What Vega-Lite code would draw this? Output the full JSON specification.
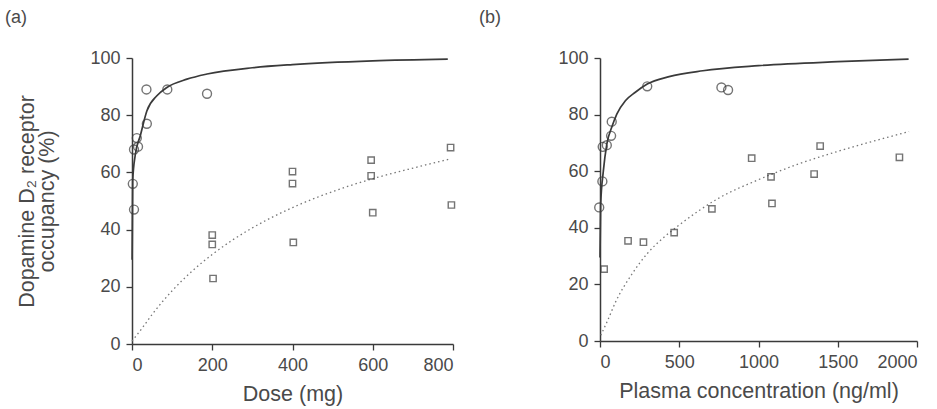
{
  "$schema": "https://vega.github.io/schema/vega-lite/v6.json",
  "background": "white",
  "padding": {"left": 4, "top": 9, "right": 5, "bottom": 3},
  "config": {
    "font": "Liberation Sans, Arial, sans-serif",
    "view": {"stroke": null},
    "axis": {
      "grid": false,
      "domainColor": "#3a3a3a",
      "domainWidth": 1.5,
      "tickColor": "#3a3a3a",
      "tickWidth": 1.3,
      "tickSize": 6,
      "labelFontSize": 18,
      "labelColor": "#4a4a4a",
      "titleFontSize": 21.5,
      "titleFontWeight": "normal",
      "titleColor": "#4a4a4a",
      "labelPadding": 6,
      "format": "d"
    },
    "title": {"fontSize": 18, "fontWeight": "normal", "color": "#4a4a4a", "anchor": "start", "frame": "bounds"},
    "concat": {"spacing": 20}
  },
  "datasets": {
    "dose_obs": [
      {"x": 5, "y": 68, "group": "circle"},
      {"x": 2, "y": 56, "group": "circle"},
      {"x": 5, "y": 47, "group": "circle"},
      {"x": 12, "y": 72, "group": "circle"},
      {"x": 15, "y": 69, "group": "circle"},
      {"x": 37, "y": 77, "group": "circle"},
      {"x": 36, "y": 89, "group": "circle"},
      {"x": 88, "y": 89, "group": "circle"},
      {"x": 187, "y": 87.5, "group": "circle"},
      {"x": 200, "y": 38.1, "group": "square"},
      {"x": 200, "y": 34.8, "group": "square"},
      {"x": 202, "y": 22.9, "group": "square"},
      {"x": 400, "y": 60.3, "group": "square"},
      {"x": 400, "y": 56.1, "group": "square"},
      {"x": 402, "y": 35.5, "group": "square"},
      {"x": 596, "y": 64.3, "group": "square"},
      {"x": 596, "y": 58.8, "group": "square"},
      {"x": 600, "y": 45.9, "group": "square"},
      {"x": 794, "y": 68.7, "group": "square"},
      {"x": 796, "y": 48.6, "group": "square"}
    ],
    "dose_fit": [
      {"x": 0.3, "y": 29.5, "curve": "solid"},
      {"x": 1.7, "y": 57, "curve": "solid"},
      {"x": 8, "y": 66, "curve": "solid"},
      {"x": 21, "y": 73, "curve": "solid"},
      {"x": 37, "y": 81.5, "curve": "solid"},
      {"x": 62, "y": 86.8, "curve": "solid"},
      {"x": 87, "y": 89.7, "curve": "solid"},
      {"x": 137, "y": 92.6, "curve": "solid"},
      {"x": 187, "y": 94.4, "curve": "solid"},
      {"x": 300, "y": 96.6, "curve": "solid"},
      {"x": 400, "y": 97.7, "curve": "solid"},
      {"x": 600, "y": 99, "curve": "solid"},
      {"x": 787, "y": 99.6, "curve": "solid"},
      {"x": 0, "y": 1, "curve": "dotted"},
      {"x": 25, "y": 5.5, "curve": "dotted"},
      {"x": 50, "y": 10.3, "curve": "dotted"},
      {"x": 100, "y": 18.6, "curve": "dotted"},
      {"x": 150, "y": 25.5, "curve": "dotted"},
      {"x": 200, "y": 31.3, "curve": "dotted"},
      {"x": 250, "y": 36.3, "curve": "dotted"},
      {"x": 300, "y": 40.6, "curve": "dotted"},
      {"x": 400, "y": 47.7, "curve": "dotted"},
      {"x": 500, "y": 53.3, "curve": "dotted"},
      {"x": 600, "y": 57.8, "curve": "dotted"},
      {"x": 700, "y": 61.5, "curve": "dotted"},
      {"x": 790, "y": 64.6, "curve": "dotted"}
    ],
    "plasma_obs": [
      {"x": -5, "y": 47.2, "group": "circle"},
      {"x": 15, "y": 56.4, "group": "circle"},
      {"x": 17, "y": 68.6, "group": "circle"},
      {"x": 43, "y": 69.2, "group": "circle"},
      {"x": 70, "y": 72.5, "group": "circle"},
      {"x": 74, "y": 77.5, "group": "circle"},
      {"x": 298, "y": 90, "group": "circle"},
      {"x": 766, "y": 89.6, "group": "circle"},
      {"x": 808, "y": 88.7, "group": "circle"},
      {"x": 26, "y": 25.4, "group": "square"},
      {"x": 177, "y": 35.4, "group": "square"},
      {"x": 274, "y": 34.9, "group": "square"},
      {"x": 468, "y": 38.3, "group": "square"},
      {"x": 706, "y": 46.7, "group": "square"},
      {"x": 957, "y": 64.6, "group": "square"},
      {"x": 1079, "y": 58, "group": "square"},
      {"x": 1085, "y": 48.6, "group": "square"},
      {"x": 1351, "y": 59, "group": "square"},
      {"x": 1389, "y": 68.9, "group": "square"},
      {"x": 1889, "y": 64.9, "group": "square"}
    ],
    "plasma_fit": [
      {"x": 0, "y": 29.5, "curve": "solid"},
      {"x": 4, "y": 48, "curve": "solid"},
      {"x": 21, "y": 60, "curve": "solid"},
      {"x": 43, "y": 69.6, "curve": "solid"},
      {"x": 74, "y": 75.5, "curve": "solid"},
      {"x": 106, "y": 80.2, "curve": "solid"},
      {"x": 160, "y": 84.9, "curve": "solid"},
      {"x": 223, "y": 87.9, "curve": "solid"},
      {"x": 298, "y": 90.8, "curve": "solid"},
      {"x": 436, "y": 93.4, "curve": "solid"},
      {"x": 649, "y": 95.5, "curve": "solid"},
      {"x": 1000, "y": 97.3, "curve": "solid"},
      {"x": 1500, "y": 98.7, "curve": "solid"},
      {"x": 1947, "y": 99.6, "curve": "solid"},
      {"x": 5, "y": 2, "curve": "dotted"},
      {"x": 50, "y": 7.5, "curve": "dotted"},
      {"x": 100, "y": 14, "curve": "dotted"},
      {"x": 200, "y": 23.5, "curve": "dotted"},
      {"x": 300, "y": 31, "curve": "dotted"},
      {"x": 400, "y": 36.5, "curve": "dotted"},
      {"x": 500, "y": 41, "curve": "dotted"},
      {"x": 750, "y": 50.5, "curve": "dotted"},
      {"x": 1000, "y": 57, "curve": "dotted"},
      {"x": 1250, "y": 62.5, "curve": "dotted"},
      {"x": 1500, "y": 67, "curve": "dotted"},
      {"x": 1750, "y": 71, "curve": "dotted"},
      {"x": 1950, "y": 74, "curve": "dotted"}
    ]
  },
  "hconcat": [
    {
      "title": {"text": "(a)", "dx": -12, "offset": 22},
      "width": 321,
      "height": 286,
      "layer": [
        {
          "data": {"name": "dose_fit"},
          "transform": [{"filter": "datum.curve === 'solid'"}],
          "mark": {"type": "line", "color": "#3a3a3a", "strokeWidth": 1.7, "interpolate": "monotone"},
          "encoding": {
            "x": {"field": "x", "type": "quantitative", "scale": {"domain": [0, 800], "nice": false}, "axis": {"values": [0, 200, 400, 600, 800], "title": "Dose (mg)", "titlePadding": 9}},
            "y": {"field": "y", "type": "quantitative", "scale": {"domain": [0, 100], "nice": false}, "axis": {"values": [0, 20, 40, 60, 80, 100], "title": ["Dopamine D₂ receptor", "occupancy (%)"], "titlePadding": 31, "titleLineHeight": 20}}
          }
        },
        {
          "data": {"name": "dose_fit"},
          "transform": [{"filter": "datum.curve === 'dotted'"}],
          "mark": {"type": "line", "color": "#777", "strokeWidth": 1.3, "strokeDash": [1.5, 3], "interpolate": "monotone"},
          "encoding": {
            "x": {"field": "x", "type": "quantitative"},
            "y": {"field": "y", "type": "quantitative"}
          }
        },
        {
          "data": {"name": "dose_obs"},
          "mark": {"type": "point", "filled": false, "color": "#3a3a3a", "strokeWidth": 1.4},
          "encoding": {
            "x": {"field": "x", "type": "quantitative"},
            "y": {"field": "y", "type": "quantitative"},
            "shape": {"field": "group", "type": "nominal", "scale": {"domain": ["circle", "square"], "range": ["circle", "square"]}, "legend": null},
            "size": {"field": "group", "type": "nominal", "scale": {"domain": ["circle", "square"], "range": [80, 40]}, "legend": null}
          }
        }
      ]
    },
    {
      "title": {"text": "(b)", "dx": -79, "offset": 22},
      "width": 317,
      "height": 283,
      "layer": [
        {
          "data": {"name": "plasma_fit"},
          "transform": [{"filter": "datum.curve === 'solid'"}],
          "mark": {"type": "line", "color": "#3a3a3a", "strokeWidth": 1.7, "interpolate": "monotone"},
          "encoding": {
            "x": {"field": "x", "type": "quantitative", "scale": {"domain": [0, 2000], "nice": false}, "axis": {"values": [0, 500, 1000, 1500, 2000], "title": "Plasma concentration (ng/ml)", "titlePadding": 9}},
            "y": {"field": "y", "type": "quantitative", "scale": {"domain": [0, 100], "nice": false}, "axis": {"values": [0, 20, 40, 60, 80, 100], "title": null}}
          }
        },
        {
          "data": {"name": "plasma_fit"},
          "transform": [{"filter": "datum.curve === 'dotted'"}],
          "mark": {"type": "line", "color": "#777", "strokeWidth": 1.3, "strokeDash": [1.5, 3], "interpolate": "monotone"},
          "encoding": {
            "x": {"field": "x", "type": "quantitative"},
            "y": {"field": "y", "type": "quantitative"}
          }
        },
        {
          "data": {"name": "plasma_obs"},
          "mark": {"type": "point", "filled": false, "color": "#3a3a3a", "strokeWidth": 1.4, "clip": false},
          "encoding": {
            "x": {"field": "x", "type": "quantitative"},
            "y": {"field": "y", "type": "quantitative"},
            "shape": {"field": "group", "type": "nominal", "scale": {"domain": ["circle", "square"], "range": ["circle", "square"]}, "legend": null},
            "size": {"field": "group", "type": "nominal", "scale": {"domain": ["circle", "square"], "range": [80, 40]}, "legend": null}
          }
        }
      ]
    }
  ]
}
